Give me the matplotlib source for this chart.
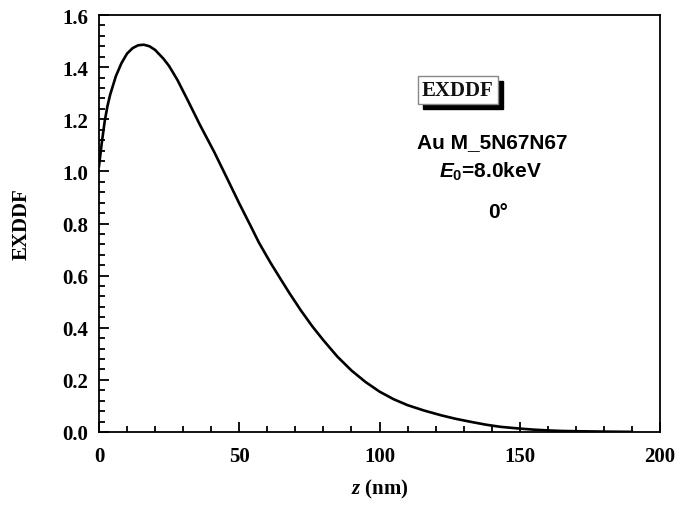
import matplotlib
matplotlib.use('Agg')
import matplotlib.pyplot as plt
from matplotlib.patches import Rectangle
from matplotlib.ticker import MultipleLocator

plt.rcParams['mathtext.fontset'] = 'custom'
plt.rcParams['mathtext.rm'] = 'Liberation Sans:bold'
plt.rcParams['mathtext.it'] = 'Liberation Sans:italic:bold'
plt.rcParams['mathtext.bf'] = 'Liberation Serif:italic:bold'

# depth z (nm) and EXDDF
z = [0, 1, 2, 3, 4, 6, 8, 10, 12, 14, 16, 18, 20, 23, 25, 28, 32, 36, 41,
     45, 50, 54, 57, 61, 64.5, 68, 72, 76, 80, 85, 90, 95, 100, 105, 110,
     116, 122, 127, 133, 138, 143, 149, 155, 160, 165, 170, 180, 190]
exddf = [1.02, 1.11, 1.19, 1.25, 1.295, 1.365, 1.415, 1.452, 1.473, 1.484,
         1.486, 1.48, 1.466, 1.432, 1.404, 1.35, 1.265, 1.178, 1.076,
         0.988, 0.877, 0.792, 0.727, 0.652, 0.591, 0.531, 0.466, 0.406, 0.352,
         0.289, 0.236, 0.192, 0.155, 0.126, 0.103, 0.082, 0.064, 0.051, 0.038,
         0.028, 0.020, 0.014, 0.009, 0.006, 0.004, 0.003, 0.0015, 0.0005]

xticks = [0, 50, 100, 150, 200]
yticks = [0.0, 0.2, 0.4, 0.6, 0.8, 1.0, 1.2, 1.4, 1.6]

fig = plt.figure(figsize=(6.78, 5.06), dpi=100)
ax = fig.add_axes([99/678, 73/506, 561/678, 417/506])

ax.plot(z, exddf, color='black', lw=1.9)

ax.set_xlim(0, 200)
ax.set_ylim(0, 1.6)
ax.set_xticks(xticks)
ax.set_yticks(yticks)
ax.set_yticklabels(['%.1f' % v for v in yticks])
ax.xaxis.set_minor_locator(MultipleLocator(10))
ax.yaxis.set_minor_locator(MultipleLocator(0.04))
ax.tick_params(which='both', direction='in', top=False, right=False, width=1.3)
ax.tick_params(which='major', length=7)
ax.tick_params(which='minor', length=4)
ax.tick_params(axis='x', pad=10)
ax.tick_params(axis='y', pad=8)
for lab in ax.get_xticklabels() + ax.get_yticklabels():
    lab.set_fontfamily('Liberation Serif')
    lab.set_fontweight('bold')
    lab.set_fontsize(15)
for s in ax.spines.values():
    s.set_linewidth(1.3)

ax.set_ylabel('EXDDF', fontfamily='Liberation Serif', fontweight='bold',
              fontsize=15, labelpad=22)
ax.set_xlabel(r'$\mathbf{z}$ (nm)', fontfamily='Liberation Serif',
              fontweight='bold', fontsize=15, labelpad=8)

# boxed label with a drop shadow behind it
bx, by = (458 - 99) / 561, (433 - 91) / 417
box_txt = ax.text(bx, by, 'EXDDF', transform=ax.transAxes, ha='center', va='center',
                  fontfamily='Liberation Serif', fontweight='bold', fontsize=15,
                  color='#111111', zorder=5,
                  bbox=dict(boxstyle='square,pad=0.2', fc='white', ec='#888888', lw=1))
fig.canvas.draw()
bb = box_txt.get_bbox_patch().get_window_extent().transformed(ax.transAxes.inverted())
dx, dy = 5 / 561, -5 / 417
ax.add_patch(Rectangle((bb.x0 + dx, bb.y0 + dy), bb.width, bb.height,
                       transform=ax.transAxes, fc='black', ec='black', zorder=4))

ax.text((492 - 99) / 561, (433 - 143) / 417, 'Au M_5N67N67', transform=ax.transAxes,
        ha='center', va='center', fontfamily='Liberation Sans', fontweight='bold', fontsize=15)
ax.text((490 - 99) / 561, (433 - 172) / 417, r'$E_0$=8.0keV', transform=ax.transAxes,
        ha='center', va='center', fontfamily='Liberation Sans', fontweight='bold', fontsize=15)
ax.text((498 - 99) / 561, (433 - 212) / 417, u'0\u00b0', transform=ax.transAxes,
        ha='center', va='center', fontfamily='Liberation Sans', fontweight='bold', fontsize=15)

fig.savefig('out.png', dpi=100)
